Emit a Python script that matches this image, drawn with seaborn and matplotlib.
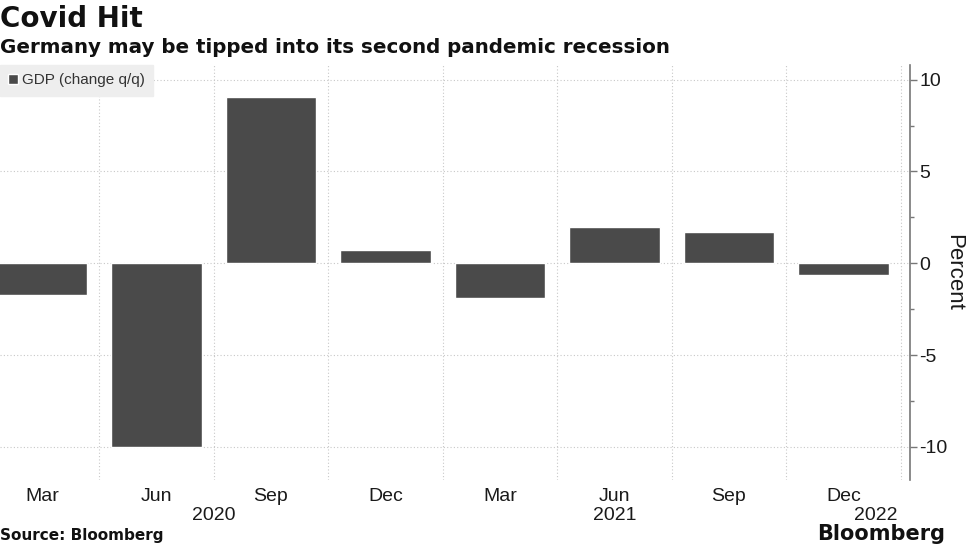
import pandas as pd
import seaborn as sns
import matplotlib.pyplot as plt
from matplotlib.patches import Patch
from matplotlib.ticker import MultipleLocator

# GDP change q/q, percent
quarters = ["2020Q1", "2020Q2", "2020Q3", "2020Q4", "2021Q1", "2021Q2", "2021Q3", "2021Q4"]
months = ["Mar", "Jun", "Sep", "Dec", "Mar", "Jun", "Sep", "Dec"]
gdp = [-1.75, -10.0, 9.05, 0.7, -1.9, 2.0, 1.7, -0.65]
years = ["2020", "2021", "2022"]
year_pos = [1.5, 5.0, 7.28]

df = pd.DataFrame({"quarter": quarters, "gdp": gdp})

sns.set_style("white")
plt.rcParams["font.family"] = ["Liberation Sans", "DejaVu Sans"]
plt.rcParams["axes.unicode_minus"] = False

bar_color = "#4a4a4a"
grid_color = "#c8c8c8"
text_color = "#1a1a1a"

fig = plt.figure(figsize=(9.72, 5.46), dpi=100)
ax = fig.add_axes([0.0, 0.121, 0.936, 0.76])

sns.barplot(data=df, x="quarter", y="gdp", color=bar_color, width=0.79,
            saturation=1, ax=ax)

ax.set_xlim(-0.367, 7.58)
ax.set_ylim(-11.8, 10.8)

# dotted grid: horizontal at majors, vertical between quarters
for v in [-10, -5, 0, 5, 10]:
    ax.axhline(v, color=grid_color, linestyle=(0, (1, 2)), linewidth=0.8, zorder=0)
for i in range(len(quarters)):
    ax.axvline(i + 0.5, color=grid_color, linestyle=(0, (1, 2)), linewidth=0.8, zorder=0)

# right-hand y axis
ax.yaxis.tick_right()
ax.yaxis.set_label_position("right")
ax.yaxis.set_major_locator(MultipleLocator(5))
ax.yaxis.set_minor_locator(MultipleLocator(2.5))
ax.tick_params(axis="y", which="major", direction="out", length=5, width=1,
               color="#777777", labelsize=14, labelcolor=text_color, pad=2)
ax.tick_params(axis="y", which="minor", direction="out", length=3, width=1, color="#777777")
ax.set_ylabel("Percent", rotation=270, fontsize=16, color=text_color, labelpad=12)

for s in ["top", "left", "bottom"]:
    ax.spines[s].set_visible(False)
ax.spines["right"].set_color("#777777")
ax.spines["right"].set_linewidth(1.2)

ax.set_xticks(range(len(months)))
ax.set_xticklabels(months)
ax.tick_params(axis="x", length=0, labelsize=14, labelcolor=text_color, pad=6)
ax.set_xlabel("")
for y, p in zip(years, year_pos):
    ax.text(p, -0.065, y, transform=ax.get_xaxis_transform(), ha="center", va="top",
            fontsize=14, color=text_color)

leg = ax.legend(handles=[Patch(facecolor=bar_color, label="GDP (change q/q)")],
                loc="upper left", bbox_to_anchor=(0, 1), borderaxespad=0,
                fancybox=False, framealpha=1, facecolor="#eeeeee", edgecolor="#eeeeee",
                fontsize=11, handlelength=0.6, handleheight=0.6, handletextpad=0.3,
                borderpad=0.55)
for t in leg.get_texts():
    t.set_color("#333333")

fig.text(0.0, 0.99, "Covid Hit", fontsize=20, fontweight="bold", va="top", ha="left",
         family="DejaVu Sans", color="#111111")
fig.text(0.0, 0.93, "Germany may be tipped into its second pandemic recession", fontsize=14.3,
         fontweight="bold", va="top", ha="left", family="DejaVu Sans", color="#111111")
fig.text(0.0, 0.005, "Source: Bloomberg", fontsize=11, fontweight="bold", va="bottom",
         ha="left", family="DejaVu Sans", color="#111111")
fig.text(0.972, 0.003, "Bloomberg", fontsize=15, fontweight="bold", va="bottom",
         ha="right", family="DejaVu Sans", color="#111111")

plt.savefig("out.png", dpi=100)
plt.close()
